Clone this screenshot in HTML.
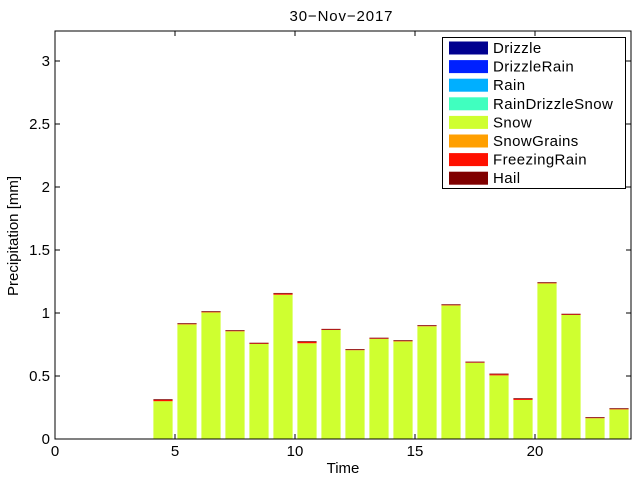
<!DOCTYPE html>
<html><head><meta charset="utf-8"><style>
body{margin:0;background:#fff;}
svg{display:block;font-family:"Liberation Sans",sans-serif;}
</style></head><body>
<svg id="c" width="640" height="480">
<rect x="0" y="0" width="640" height="480" fill="#fff"/>
<text x="341" y="21" font-size="15" text-anchor="middle" textLength="103" lengthAdjust="spacing">30−Nov−2017</text>
<text x="0" y="0" font-size="15" text-anchor="middle" transform="translate(18,236) rotate(-90)">Precipitation [mm]</text>
<text x="343" y="473" font-size="15" text-anchor="middle">Time</text>
<g id="bars"></g>
<g id="axes"></g>
<g id="legend"></g>
</svg>
<script>
const hours = [4.5,5.5,6.5,7.5,8.5,9.5,10.5,11.5,12.5,13.5,14.5,15.5,16.5,17.5,18.5,19.5,20.5,21.5,22.5,23.5];
const snow = [0.30,0.91,1.005,0.855,0.755,1.145,0.76,0.865,0.705,0.795,0.775,0.895,1.06,0.605,0.505,0.31,1.235,0.985,0.165,0.235];
const freezingRain = [0.01,0.003,0.003,0.003,0.003,0.008,0.01,0.003,0.003,0.003,0.003,0.003,0.003,0.003,0.008,0.008,0.003,0.003,0.003,0.003];
const hail = [0.006,0.006,0.006,0.006,0.006,0.006,0.006,0.006,0.006,0.006,0.006,0.006,0.006,0.006,0.006,0.006,0.006,0.006,0.006,0.006];
const xTicks = [0,5,10,15,20];
const yTicks = [0,0.5,1,1.5,2,2.5,3];
const yTickLabels = ["0","0.5","1","1.5","2","2.5","3"];
const legendNames = ["Drizzle","DrizzleRain","Rain","RainDrizzleSnow","Snow","SnowGrains","FreezingRain","Hail"];
const legendColors = ["#00008f","#0020ff","#00afff","#40ffbf","#cfff30","#ff9f00","#ff1000","#800000"];

const L=55,R=631,T=31,B=439, xMax=24, yMax=3.238;
const sx=v=>L+v*(R-L)/xMax;
const sy=v=>B-v*(B-T)/yMax;
const NS='http://www.w3.org/2000/svg';
function mk(tag,attrs,parent){const e=document.createElementNS(NS,tag);for(const k in attrs)e.setAttribute(k,attrs[k]);parent.appendChild(e);return e;}
const bars=document.getElementById('bars');
hours.forEach((h,i)=>{
  const x0=sx(h-0.4), w=sx(h+0.4)-x0;
  let base=0;
  [[snow[i],legendColors[4]],[freezingRain[i],legendColors[6]],[hail[i],legendColors[7]]].forEach(([v,c],j)=>{
    const r=mk('rect',{x:x0,y:sy(base+v),width:w,height:sy(base)-sy(base+v),fill:c},bars);
    
    
    base+=v;
  });
});
const ax=document.getElementById('axes');
mk('rect',{x:L,y:T,width:R-L,height:B-T,fill:'none',stroke:'#000','stroke-width':1},ax);
xTicks.forEach(t=>{
  const x=sx(t);
  mk('line',{x1:x,x2:x,y1:B,y2:B-5,stroke:'#000'},ax);
  mk('line',{x1:x,x2:x,y1:T,y2:T+5,stroke:'#000'},ax);
  const tx=mk('text',{x:x,y:B+17,'font-size':15,'text-anchor':'middle'},ax);
  tx.textContent=t;
  
  
});
yTicks.forEach((t,i)=>{
  const y=sy(t);
  mk('line',{x1:L,x2:L+5,y1:y,y2:y,stroke:'#000'},ax);
  mk('line',{x1:R,x2:R-5,y1:y,y2:y,stroke:'#000'},ax);
  const tx=mk('text',{x:L-5,y:y+5,'font-size':15,'text-anchor':'end'},ax);
  tx.textContent=yTickLabels[i];
  
  
});
const lg=document.getElementById('legend');
mk('rect',{x:442.5,y:37.5,width:183,height:151,fill:'#fff',stroke:'#000'},lg);
legendNames.forEach((n,i)=>{
  const y=48+i*18.6;
  const s=mk('rect',{x:449,y:y-6.5,width:39,height:13,fill:legendColors[i]},lg);
  
  
  const t=mk('text',{x:493,y:y+5,'font-size':15,'letter-spacing':'0.4'},lg);
  t.textContent=n;
  
  
});
</script>
</body></html>
